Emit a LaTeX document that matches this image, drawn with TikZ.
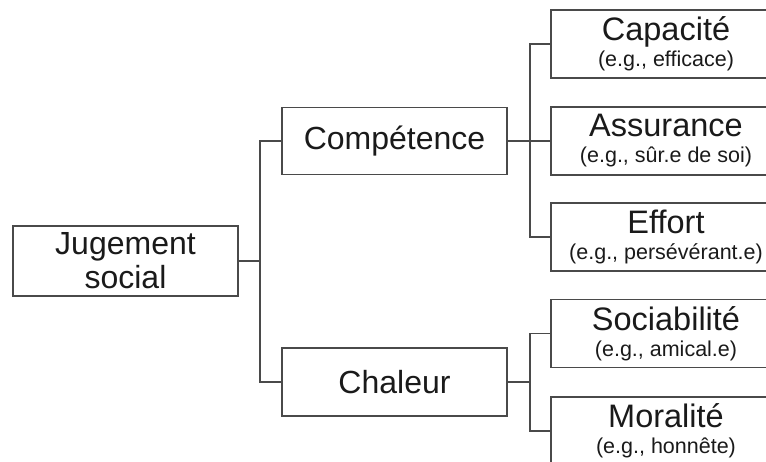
\documentclass[tikz,border=0pt]{standalone}
\usepackage{fontspec}
\setmainfont{Liberation Sans}
\definecolor{linec}{HTML}{4A4A4A}
\definecolor{textc}{HTML}{1A1A1A}
\begin{document}
\begin{tikzpicture}[x=1pt,y=-1pt,
  box/.style={draw=linec,line width=1.3pt,rectangle,inner sep=0pt,text=textc,align=center},
  mainbox/.style={box,minimum width=225pt,minimum height=68pt,font=\fontsize{32}{34}\selectfont},
  leafbox/.style={box,minimum width=230pt,minimum height=68pt,font=\fontsize{32.5}{26}\selectfont},
  conn/.style={draw=linec,line width=1.3pt}]
\useasboundingbox (0,0) rectangle (766,462);
\newcommand{\subtxt}[1]{{\fontsize{21.5}{26}\selectfont #1}}
\node[mainbox,minimum height=70pt] (J) at (125.5,261) {Jugement\\social};
\node[mainbox,minimum height=67pt] (C) at (394.5,141) {Compétence};
\node[mainbox] (W) at (394.5,382) {Chaleur};
\node[leafbox] (cap) at (666,44) {Capacité\\\subtxt{(e.g., efficace)}};
\node[leafbox] (ass) at (666,141) {Assurance\\\subtxt{(e.g., sûr.e de soi)}};
\node[leafbox] (eff) at (666,237) {Effort\\\subtxt{(e.g., persévérant.e)}};
\node[leafbox] (soc) at (666,333.5) {Sociabilité\\\subtxt{(e.g., amical.e)}};
\node[leafbox] (mor) at (666,431) {Moralité\\\subtxt{(e.g., honnête)}};
\coordinate (s1) at (260,261);
\coordinate (s2) at (530,141);
\coordinate (s3) at (530,382);
\draw[conn] (J.east) -- (s1);
\draw[conn] (C.west) -| (s1) |- (W.west);
\draw[conn] (C.east) -- (ass.west);
\draw[conn] (cap.west) -| (s2) |- (eff.west);
\draw[conn] (W.east) -- (s3);
\draw[conn] (soc.west) -| (s3) |- (mor.west);
\end{tikzpicture}
\end{document}
